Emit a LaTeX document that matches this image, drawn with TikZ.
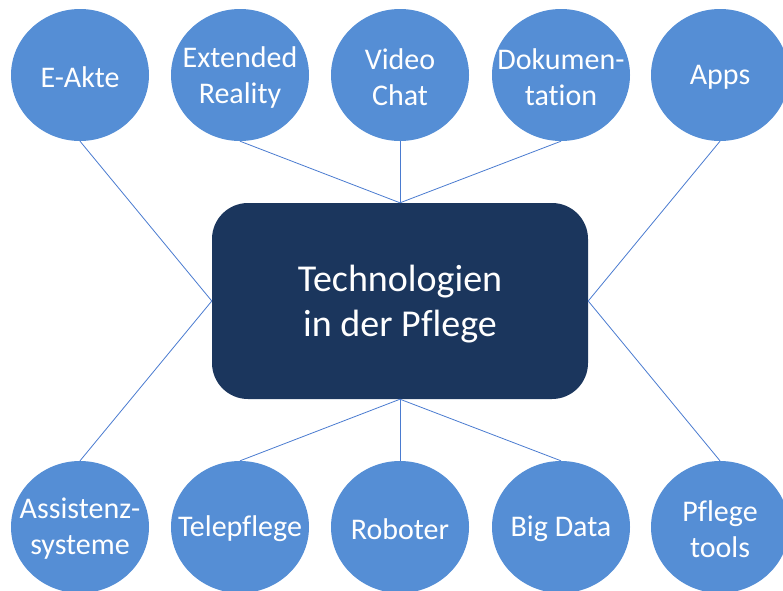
\documentclass[tikz,border=0pt]{standalone}
\usepackage{fontspec}
\setmainfont{Carlito}[Ligatures={NoCommon}]
\usetikzlibrary{shapes.geometric}
\definecolor{bub}{HTML}{558ED5}
\definecolor{core}{HTML}{1B365D}
\definecolor{linkc}{HTML}{4A7BD0}
\begin{document}
\begin{tikzpicture}[x=1pt,y=-1pt,
  bubble/.style={ellipse, fill=bub, minimum width=138pt, minimum height=132pt,
    inner sep=0pt},
  btext/.style={text=white, align=center, inner sep=0pt, yshift=-2pt,
    font=\fontsize{30}{36}\selectfont},
  hub/.style={rectangle, rounded corners=36pt, fill=core, minimum width=376pt,
    minimum height=196pt, inner sep=0pt},
  htext/.style={text=white, align=center, inner sep=0pt, yshift=-3pt,
    font=\fontsize{38}{45}\selectfont},
  linkline/.style={draw=linkc, line width=0.8pt}]
\useasboundingbox (0,0) rectangle (783,590);
\clip (0,0) rectangle (783,590);
% hub
\node[hub] (hub) at (400,301) {};
\node[htext] (hubtext) at (hub.center) {Technologien\\in der Pflege};
% top row
\node[bubble] (t1) at (80,75) {};
\node[bubble] (t2) at (240,75) {};
\node[bubble] (t3) at (400,75) {};
\node[bubble] (t4) at (561,75) {};
\node[bubble] (t5) at (720,75) {};
\node[btext] (t1l) at (t1.center) {E-Akte};
\node[btext] (t2l) at (t2.center) {Extended\\Reality};
\node[btext] (t3l) at (t3.center) {Video\\Chat};
\node[btext] (t4l) at (t4.center) {Dokumen-\\tation};
\node[btext] (t5l) at (t5.center) {Apps};
% bottom row
\node[bubble] (b1) at (80,527) {};
\node[bubble] (b2) at (240,527) {};
\node[bubble] (b3) at (400,527) {};
\node[bubble] (b4) at (561,527) {};
\node[bubble] (b5) at (720,527) {};
\node[btext] (b1l) at (b1.center) {Assistenz-\\systeme};
\node[btext] (b2l) at (b2.center) {Telepflege};
\node[btext] (b3l) at (b3.center) {Roboter};
\node[btext] (b4l) at (b4.center) {Big Data};
\node[btext] (b5l) at (b5.center) {Pflege\\tools};
% connectors
\draw[linkline] (t1.south) -- (hub.west);
\draw[linkline] (t2.south) -- (hub.north);
\draw[linkline] (t3.south) -- (hub.north);
\draw[linkline] (t4.south) -- (hub.north);
\draw[linkline] (t5.south) -- (hub.east);
\draw[linkline] (b1.north) -- (hub.west);
\draw[linkline] (b2.north) -- (hub.south);
\draw[linkline] (b3.north) -- (hub.south);
\draw[linkline] (b4.north) -- (hub.south);
\draw[linkline] (b5.north) -- (hub.east);
\end{tikzpicture}
\end{document}
